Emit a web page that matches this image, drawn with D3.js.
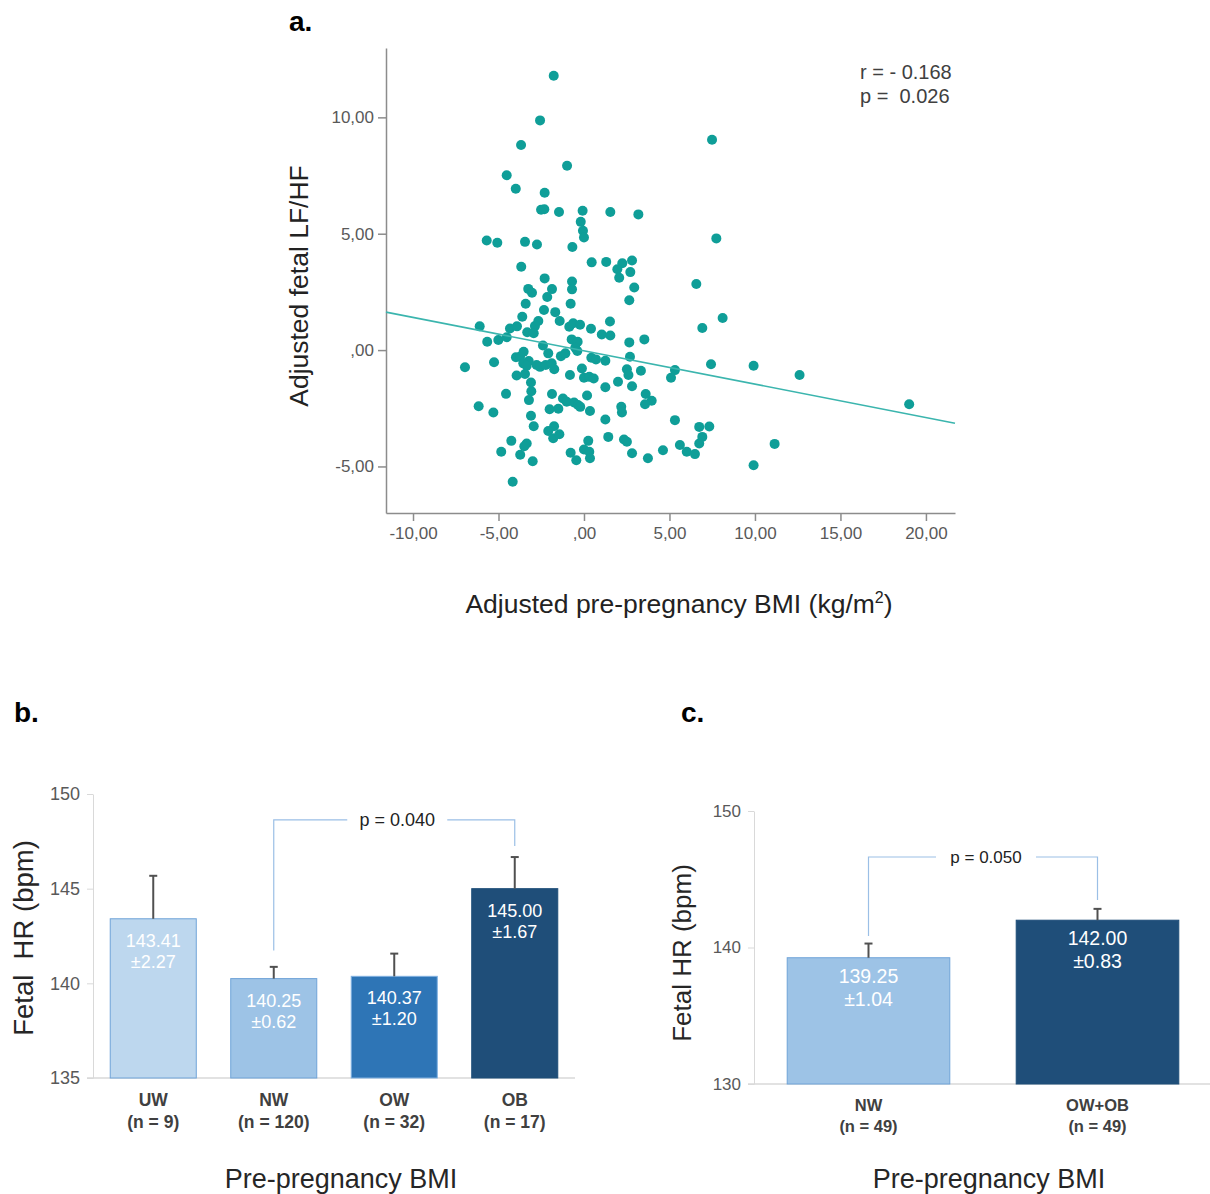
<!DOCTYPE html>
<html>
<head>
<meta charset="utf-8">
<script src="https://cdn.jsdelivr.net/npm/d3@7"></script>
<style>
body { margin: 0; background: #fff; }
svg { font-family: "Liberation Sans", Arial, sans-serif; }
</style>
</head>
<body>
<div id="chart"></div>
<script>
// ---- panel a: adjusted BMI vs adjusted fetal LF/HF
var bmiAdj = [
  -1.77, -2.57, -3.68, -0.99, -4.52, -3.99, -2.30, -2.51, -2.32, -1.46,
  -0.08, 1.54, 3.18, -0.19, -0.06, 0.00, -5.69, -5.07, -3.45, -2.75,
  -0.68, -3.67, 0.45, 1.30, 2.24, 2.81, 1.95, 2.71, 2.06, -2.30,
  -0.70, -0.70, -3.26, -3.04, -1.87, -2.15, 2.94, -3.41, -0.78, 2.65,
  7.49, 7.74, 6.57, -2.34, -1.68, -3.61, -1.42, -2.87, -2.67, -6.10,
  -4.33, -3.92, -0.86, -0.63, -0.23, 0.41, 1.52, -3.32, -2.94, 1.04,
  1.54, -5.66, -5.01, -4.52, -0.72, -0.37, 2.65, 3.53, -2.40, -0.51,
  -0.39, -2.09, -1.35, -1.09, -3.98, -3.74, -3.53, -3.23, -3.55, -3.35,
  0.43, 0.70, 1.25, 2.69, -5.26, -6.96, -2.77, -2.57, -2.24, -1.89,
  -1.74, -0.12, 2.51, 2.60, 3.33, 5.32, 5.09, -3.94, -3.45,
  -0.82, 0.00, 0.31, 0.57, -3.10, 1.99, 1.25, 2.81, -3.08, -4.56,
  -1.87, 0.18, -3.22, -1.23, -1.01, -0.58, -0.35, -0.22, 3.61, 3.96,
  3.57, -6.16, -5.30, -2.01, -1.50, 0.35, 2.18, 2.22, -3.10, 1.25,
  5.32, -2.94, -1.75, -2.09, -1.80, -1.44, 1.42, -4.25, -3.35, -3.49,
  -4.84, -3.73, -3.00, -0.78, -0.45, 0.25, 0.00, 0.31, 0.35, 2.34,
  2.51, 2.81, 3.74, 4.62, 5.61, -4.17, 8.11, 6.92, 7.43, 9.92,
  12.61, 19.02, 6.01, 6.49, 6.74, 7.33, 6.92, 6.74, 11.15, 9.92
];
var lfhfAdj = [
  11.79, 9.87, 8.81, 7.92, 7.51, 6.93, 6.76, 6.03, 6.05, 5.93,
  5.99, 5.93, 5.83, 5.51, 5.13, 4.84, 4.71, 4.61, 4.65, 4.54,
  4.43, 3.58, 3.77, 3.79, 3.73, 3.85, 3.47, 3.35, 3.11, 3.08,
  2.95, 2.61, 2.63, 2.46, 2.62, 2.28, 2.69, 1.99, 1.99, 2.14,
  9.04, 4.80, 2.84, 1.72, 1.63, 1.43, 1.25, 1.03, 1.25, 1.02,
  0.93, 1.02, 1.00, 1.15, 1.09, 0.92, 1.23, 0.77, 0.72, 0.67,
  0.63, 0.36, 0.43, 0.55, 0.46, 0.36, 0.33, 0.46, 0.20, 0.10,
  -0.04, -0.14, -0.26, -0.14, -0.31, -0.29, -0.07, -0.47, -0.57, -0.67,
  -0.33, -0.40, -0.46, -0.29, -0.52, -0.74, -0.64, -0.72, -0.64, -0.57,
  -0.82, -0.79, -0.82, -1.07, -0.89, -0.86, -1.19, -1.09, -1.03,
  -1.07, -1.19, -1.15, -1.22, -1.39, -1.36, -1.60, -1.55, -1.77, -1.88,
  -1.89, -1.95, -2.15, -2.08, -2.22, -2.25, -2.36, -2.44, -1.89, -2.18,
  -2.33, -2.41, -2.68, -2.54, -2.52, -2.62, -2.44, -2.68, -2.82, -2.98,
  -3.01, -3.27, -3.27, -3.48, -3.79, -3.62, -3.73, -3.90, -4.01, -4.13,
  -4.37, -4.50, -4.78, -4.41, -4.73, -3.90, -4.27, -4.37, -4.65, -3.84,
  -3.94, -4.43, -4.65, -4.30, -4.08, -5.66, 1.38, 0.95, -0.61, -0.67,
  -1.07, -2.33, -4.37, -4.47, -3.30, -3.28, -3.73, -4.01, -4.03, -4.95
];
// fit line end points (x at the axis edges)
var fitBmi = [-11.58, 21.7];
var fitLfhf = [1.63, -3.14];
var xTicksA = [-10, -5, 0, 5, 10, 15, 20];
var yTicksA = [-5, 0, 5, 10];
var statLines = ["r = - 0.168", "p =  0.026"];

// ---- panel b: four BMI groups
var groupsB = ["UW", "NW", "OW", "OB"];
var countsB = ["(n = 9)", "(n = 120)", "(n = 32)", "(n = 17)"];
var meansB = [143.41, 140.25, 140.37, 145.00];
var semB = [2.27, 0.62, 1.20, 1.67];
var yTicksB = [135, 140, 145, 150];
var pairB = ["NW", "OB"], pB = "p = 0.040";
var bracketB = [141.74, 148.63, 147.26]; // left leg end, top, right leg end

// ---- panel c: matched groups
var groupsC = ["NW", "OW+OB"];
var countsC = ["(n = 49)", "(n = 49)"];
var meansC = [139.25, 142.00];
var semC = [1.04, 0.83];
var yTicksC = [130, 140, 150];
var pairC = ["NW", "OW+OB"], pC = "p = 0.050";
var bracketC = [140.84, 146.63, 143.48];

var svg = d3.select("#chart").append("svg")
    .attr("width", 1210)
    .attr("height", 1194);

// ================= panel a =================
var x = d3.scaleLinear().domain([-11.58, 21.7]).range([386, 955]);
var y = d3.scaleLinear().domain([-7.0, 12.98]).range([513, 48]);
var fmt = function(d){ return d === 0 ? ",00" : d.toFixed(2).replace(".", ","); };

var ga = svg.append("g");

ga.append("g")
    .attr("transform", "translate(0,513)")
    .call(d3.axisBottom(x).tickValues(xTicksA).tickFormat(fmt).tickSize(8).tickSizeOuter(0).tickPadding(6))
    .call(function(g){
        g.select(".domain").attr("stroke", "#8c8c8c").attr("stroke-width", 1.5);
        g.selectAll(".tick line").attr("stroke", "#8c8c8c").attr("stroke-width", 1.5);
        g.selectAll(".tick text").attr("fill", "#595959").attr("font-size", 17).attr("font-family", "Liberation Sans, Arial");
    });

ga.append("g")
    .attr("transform", "translate(386,0)")
    .call(d3.axisLeft(y).tickValues(yTicksA).tickFormat(fmt).tickSize(8).tickSizeOuter(0).tickPadding(4))
    .call(function(g){
        g.select(".domain").attr("stroke", "#8c8c8c").attr("stroke-width", 1.5);
        g.selectAll(".tick line").attr("stroke", "#8c8c8c").attr("stroke-width", 1.5);
        g.selectAll(".tick text").attr("fill", "#595959").attr("font-size", 17).attr("font-family", "Liberation Sans, Arial");
    });

var pts = bmiAdj.map(function(d, i){ return {bmi: d, lfhf: lfhfAdj[i]}; });

ga.selectAll(".dot")
    .data(pts)
    .enter().append("circle")
    .attr("class", "dot")
    .attr("cx", function(d){ return x(d.bmi); })
    .attr("cy", function(d){ return y(d.lfhf); })
    .attr("r", 5)
    .attr("fill", "#0f9e98");

ga.append("line")
    .attr("x1", x(fitBmi[0])).attr("y1", y(fitLfhf[0]))
    .attr("x2", x(fitBmi[1])).attr("y2", y(fitLfhf[1]))
    .attr("stroke", "#3bb5ae")
    .attr("stroke-width", 1.6);

ga.selectAll(".stat")
    .data(statLines)
    .enter().append("text")
    .attr("class", "stat")
    .attr("x", 860)
    .attr("y", function(d, i){ return 79 + i * 24; })
    .attr("font-size", 20)
    .attr("fill", "#404040")
    .style("white-space", "pre")
    .text(function(d){ return d; });

ga.append("text")
    .attr("transform", "translate(308,286) rotate(-90)")
    .attr("text-anchor", "middle")
    .attr("font-size", 26.5)
    .attr("fill", "#222")
    .text("Adjusted fetal LF/HF");

var xt = ga.append("text")
    .attr("x", 679).attr("y", 613)
    .attr("text-anchor", "middle")
    .attr("font-size", 26.5)
    .attr("fill", "#222");
xt.append("tspan").text("Adjusted pre-pregnancy BMI (kg/m");
xt.append("tspan").attr("font-size", 16).attr("dy", -10).text("2");
xt.append("tspan").attr("dy", 10).text(")");

// panel letters
svg.append("text").attr("x", 289).attr("y", 31).attr("font-size", 28).attr("font-weight", "bold").text("a.");
svg.append("text").attr("x", 14).attr("y", 722).attr("font-size", 28).attr("font-weight", "bold").text("b.");
svg.append("text").attr("x", 681).attr("y", 722).attr("font-size", 28).attr("font-weight", "bold").text("c.");

// ================= bar panels =================
var blues = {UW: "#bdd7ee", NW: "#9dc3e6", OW: "#2e75b6", OB: "#1f4e79", "OW+OB": "#1f4e79"};
var edges = {UW: "#6fa3d8", NW: "#6fa3d8", OW: "#7fb0e0", OB: "#1f4e79", "OW+OB": "#1f4e79"};

function barPanel(o){
    var g = svg.append("g");
    var xb = d3.scaleBand().domain(o.groups).range([o.left, o.right]).paddingInner(o.pad).paddingOuter(o.pad / 2);
    var yb = d3.scaleLinear().domain(o.domain).range([o.bottom, o.top]);
    var rows = o.groups.map(function(k, i){ return {g: k, n: o.counts[i], m: o.means[i], s: o.sem[i]}; });
    var cx = function(k){ return xb(k) + xb.bandwidth() / 2; };

    // axis
    g.append("g")
        .attr("transform", "translate(" + o.left + ",0)")
        .call(d3.axisLeft(yb).tickValues(o.ticks).tickSize(6).tickSizeOuter(0).tickPadding(7))
        .call(function(a){
            a.select(".domain").attr("stroke", "#d9d9d9");
            a.selectAll(".tick line").attr("stroke", "#d9d9d9");
            a.selectAll(".tick text").attr("fill", "#595959").attr("font-size", o.tickSize).attr("font-family", "Liberation Sans, Arial");
        });
    g.append("line")
        .attr("x1", o.left - 6).attr("x2", o.right)
        .attr("y1", yb(o.domain[0])).attr("y2", yb(o.domain[0]))
        .attr("stroke", "#d9d9d9").attr("stroke-width", 1.5);

    // bars
    g.selectAll(".bar").data(rows).enter().append("rect")
        .attr("x", function(d){ return xb(d.g); })
        .attr("y", function(d){ return yb(d.m); })
        .attr("width", xb.bandwidth())
        .attr("height", function(d){ return yb(o.domain[0]) - yb(d.m); })
        .attr("fill", function(d){ return blues[d.g]; })
        .attr("stroke", function(d){ return edges[d.g]; })
        .attr("stroke-width", 1);

    // error bars (upper only)
    var eb = g.selectAll(".err").data(rows).enter().append("g");
    eb.append("line")
        .attr("x1", function(d){ return cx(d.g); }).attr("x2", function(d){ return cx(d.g); })
        .attr("y1", function(d){ return yb(d.m); }).attr("y2", function(d){ return yb(d.m + d.s); })
        .attr("stroke", "#505050").attr("stroke-width", 2);
    eb.append("line")
        .attr("x1", function(d){ return cx(d.g) - 4; }).attr("x2", function(d){ return cx(d.g) + 4; })
        .attr("y1", function(d){ return yb(d.m + d.s); }).attr("y2", function(d){ return yb(d.m + d.s); })
        .attr("stroke", "#505050").attr("stroke-width", 2);

    // value labels
    var vl = g.selectAll(".val").data(rows).enter().append("text")
        .attr("text-anchor", "middle")
        .attr("fill", "#ffffff")
        .attr("font-size", o.valSize);
    vl.append("tspan")
        .attr("x", function(d){ return cx(d.g); })
        .attr("y", function(d){ return yb(d.m) + o.labOff; })
        .text(function(d){ return d.m.toFixed(2); });
    vl.append("tspan")
        .attr("x", function(d){ return cx(d.g); })
        .attr("dy", o.valGap)
        .text(function(d){ return "\u00b1" + d.s.toFixed(2); });

    // category labels
    var cl = g.selectAll(".cat").data(rows).enter().append("text")
        .attr("text-anchor", "middle")
        .attr("fill", "#404040")
        .attr("font-weight", "bold")
        .attr("font-size", o.catSize);
    cl.append("tspan")
        .attr("x", function(d){ return cx(d.g); })
        .attr("y", yb(o.domain[0]) + o.catOff)
        .text(function(d){ return d.g; });
    cl.append("tspan")
        .attr("x", function(d){ return cx(d.g); })
        .attr("dy", o.catGap)
        .text(function(d){ return d.n; });

    // significance bracket
    var xl = cx(o.pair[0]), xr = cx(o.pair[1]), xm = (xl + xr) / 2 + 3;
    var yTop = yb(o.bracket[1]);
    var gap = 50;
    g.append("path")
        .attr("d", "M" + xl + "," + yb(o.bracket[0]) + "V" + yTop + "H" + (xm - gap))
        .attr("fill", "none").attr("stroke", "#9bbfe6").attr("stroke-width", 1.2);
    g.append("path")
        .attr("d", "M" + (xm + gap) + "," + yTop + "H" + xr + "V" + yb(o.bracket[2]))
        .attr("fill", "none").attr("stroke", "#9bbfe6").attr("stroke-width", 1.2);
    g.append("text")
        .attr("x", xm).attr("y", yTop + 6)
        .attr("text-anchor", "middle")
        .attr("font-size", o.pSize)
        .attr("fill", "#222")
        .text(o.p);

    // axis titles
    g.append("text")
        .attr("transform", "translate(" + o.yTitleX + "," + o.yTitleY + ") rotate(-90)")
        .attr("text-anchor", "middle")
        .attr("font-size", o.titleSize)
        .attr("fill", "#262626")
        .style("white-space", "pre")
        .text(o.yTitle);
    g.append("text")
        .attr("x", o.xTitleX).attr("y", 1188)
        .attr("text-anchor", "middle")
        .attr("font-size", 27)
        .attr("fill", "#262626")
        .text("Pre-pregnancy BMI");
}

barPanel({
    groups: groupsB, counts: countsB, means: meansB, sem: semB, ticks: yTicksB,
    domain: [135, 150], top: 794, bottom: 1078, left: 93, right: 575, pad: 0.286,
    pair: pairB, p: pB, bracket: bracketB, labOff: 28, catOff: 28, catGap: 22, catSize: 17.5,
    valSize: 18, valGap: 21, pSize: 18, tickSize: 18,
    yTitle: "Fetal  HR (bpm)", yTitleX: 33, yTitleY: 938, titleSize: 27.5, xTitleX: 341
});

barPanel({
    groups: groupsC, counts: countsC, means: meansC, sem: semC, ticks: yTicksC,
    domain: [130, 150], top: 811, bottom: 1084, left: 754, right: 1212, pad: 0.29,
    pair: pairC, p: pC, bracket: bracketC, labOff: 25, catOff: 27, catGap: 21, catSize: 16.5,
    valSize: 19.5, valGap: 23, pSize: 17, tickSize: 17,
    yTitle: "Fetal HR (bpm)", yTitleX: 691, yTitleY: 953, titleSize: 26, xTitleX: 989
});
</script>
</body>
</html>
